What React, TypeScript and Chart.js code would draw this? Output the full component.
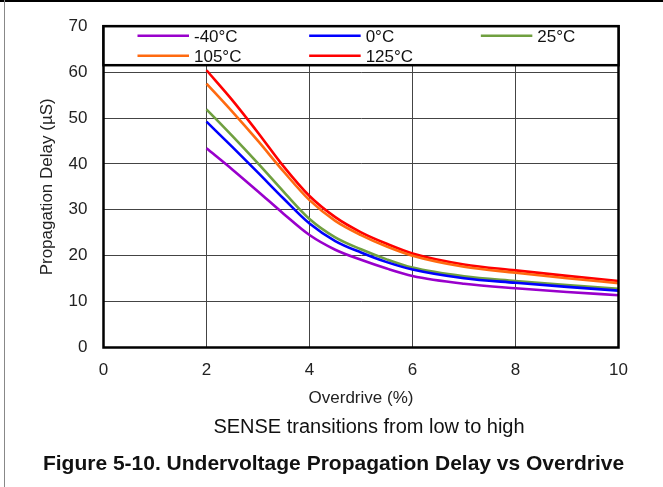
import React, { useEffect, useRef } from "react";
import { Chart, registerables } from "chart.js";

Chart.register(...registerables);

// ---- data ----
const overdrive = [2, 2.5, 3, 3.5, 4, 4.5, 5, 5.5, 6, 7, 8, 9, 10];
const delayM40 = [43.4, 38.8, 34.0, 29.1, 24.5, 21.3, 19.1, 17.2, 15.6, 13.9, 12.9, 12.1, 11.4];
const delay0 = [49.2, 43.7, 38.1, 32.4, 27.0, 23.2, 20.7, 18.6, 17.0, 15.1, 14.1, 13.2, 12.4];
const delay25 = [51.9, 46.1, 40.1, 33.9, 28.0, 24.0, 21.4, 19.2, 17.4, 15.5, 14.5, 13.6, 12.8];
const delay105 = [57.5, 51.4, 45.0, 38.3, 32.1, 27.6, 24.5, 22.0, 20.0, 17.6, 16.3, 15.1, 14.0];
const delay125 = [60.4, 53.9, 46.8, 39.4, 33.0, 28.4, 25.1, 22.6, 20.5, 18.1, 16.8, 15.6, 14.5];
const seriesLabels = ["-40°C", "0°C", "25°C", "105°C", "125°C"];
const seriesColors = ["#9900CC", "#0000FF", "#70A040", "#FF6A10", "#FF0000"];
const xTickValues = [0, 2, 4, 6, 8, 10];
const yTickValues = [0, 10, 20, 30, 40, 50, 60, 70];
const xTitle = "Overdrive (%)";
const yTitle = "Propagation Delay (µS)";
const subtitleText = "SENSE transitions from low to high";
const captionText = "Figure 5-10. Undervoltage Propagation Delay vs Overdrive";

const FONT = "'Liberation Sans', Arial, Helvetica, sans-serif";

const decorPlugin = {
  id: "decor",
  afterDraw(chart: any) {
    const { ctx, chartArea: a } = chart;
    ctx.save();
    // plot frame
    ctx.strokeStyle = "#000";
    ctx.lineWidth = 2.5;
    ctx.strokeRect(a.left, a.top, a.right - a.left, a.bottom - a.top);

    // legend box inside the top of the plot
    const boxH = 39;
    ctx.fillStyle = "#fff";
    ctx.fillRect(a.left, a.top, a.right - a.left, boxH);
    ctx.lineWidth = 2.5;
    ctx.strokeRect(a.left, a.top, a.right - a.left, boxH);

    const colW = (a.right - a.left) / 3;
    ctx.font = `17px ${FONT}`;
    ctx.textBaseline = "alphabetic";
    ctx.textAlign = "left";
    chart.data.datasets.forEach((ds: any, i: number) => {
      const col = i % 3;
      const row = Math.floor(i / 3);
      const x0 = a.left + col * colW;
      const y = a.top + 9.5 + row * 20;
      ctx.strokeStyle = ds.borderColor;
      ctx.lineWidth = 2.5;
      ctx.beginPath();
      ctx.moveTo(x0 + 34, y);
      ctx.lineTo(x0 + 85.5, y);
      ctx.stroke();
      ctx.fillStyle = "#111";
      ctx.fillText(ds.label, x0 + 90.5, y + 6);
    });

    // subtitle and caption under the chart
    ctx.textAlign = "center";
    ctx.fillStyle = "#111";
    ctx.font = `20px ${FONT}`;
    ctx.fillText(subtitleText, (a.left + a.right) / 2 + 8, 433);
    ctx.font = `bold 21px ${FONT}`;
    ctx.fillText(captionText, chart.width / 2 + 2, 470);
    ctx.restore();
  },
};

function App() {
  const ref = useRef<HTMLCanvasElement | null>(null);

  useEffect(() => {
    document.body.style.margin = "0";
    const canvas = ref.current;
    if (!canvas) return;
    const series = [delayM40, delay0, delay25, delay105, delay125];
    const chart = new Chart(canvas, {
      type: "line",
      data: {
        datasets: series.map((vals, i) => ({
          label: seriesLabels[i],
          data: vals.map((v, j) => ({ x: overdrive[j], y: v })),
          borderColor: seriesColors[i],
          backgroundColor: seriesColors[i],
          borderWidth: 2.6,
          pointRadius: 0,
          fill: false,
          cubicInterpolationMode: "monotone" as const,
        })),
      },
      options: {
        animation: false,
        responsive: false,
        devicePixelRatio: 1,
        layout: { padding: { left: 0, top: 23, right: 44.5, bottom: 0 } },
        plugins: {
          legend: { display: false },
          tooltip: { enabled: false },
          title: { display: false },
        },
        scales: {
          x: {
            type: "linear",
            min: 0,
            max: 10,
            afterFit: (s: any) => {
              s.height = 139.5;
            },
            afterBuildTicks: (s: any) => {
              s.ticks = xTickValues.map((v) => ({ value: v }));
            },
            ticks: {
              padding: 13,
              color: "#222",
              font: { family: FONT, size: 17 },
              maxRotation: 0,
            },
            grid: { color: "#444", lineWidth: 1, drawTicks: false },
            border: { display: false },
            title: {
              display: true,
              text: xTitle,
              color: "#222",
              font: { family: FONT, size: 17 },
              padding: { top: 0, bottom: 78.8 },
            },
          },
          y: {
            type: "linear",
            min: 0,
            max: 70,
            afterFit: (s: any) => {
              s.width = 103.5;
            },
            afterBuildTicks: (s: any) => {
              s.ticks = yTickValues.map((v) => ({ value: v }));
            },
            ticks: {
              padding: 16,
              color: "#222",
              font: { family: FONT, size: 17 },
            },
            grid: { color: "#444", lineWidth: 1, drawTicks: false },
            border: { display: false },
            title: {
              display: true,
              text: yTitle,
              color: "#222",
              font: { family: FONT, size: 17 },
              padding: { top: 36.8, bottom: 0 },
            },
          },
        },
      },
      plugins: [decorPlugin],
    });
    return () => chart.destroy();
  }, []);

  return (
    <div
      style={{
        position: "fixed",
        left: 0,
        top: 0,
        width: 663,
        height: 487,
        background: "#fff",
        overflow: "hidden",
      }}
    >
      <canvas
        ref={ref}
        width={663}
        height={487}
        style={{ position: "absolute", left: 0, top: 0, width: 663, height: 487 }}
      />
      <div style={{ position: "absolute", left: 0, top: 0, width: 663, height: 1.5, background: "#000" }} />
      <div style={{ position: "absolute", left: 4, top: 0, width: 1.2, height: 487, background: "#888" }} />
    </div>
  );
}

export default App;
